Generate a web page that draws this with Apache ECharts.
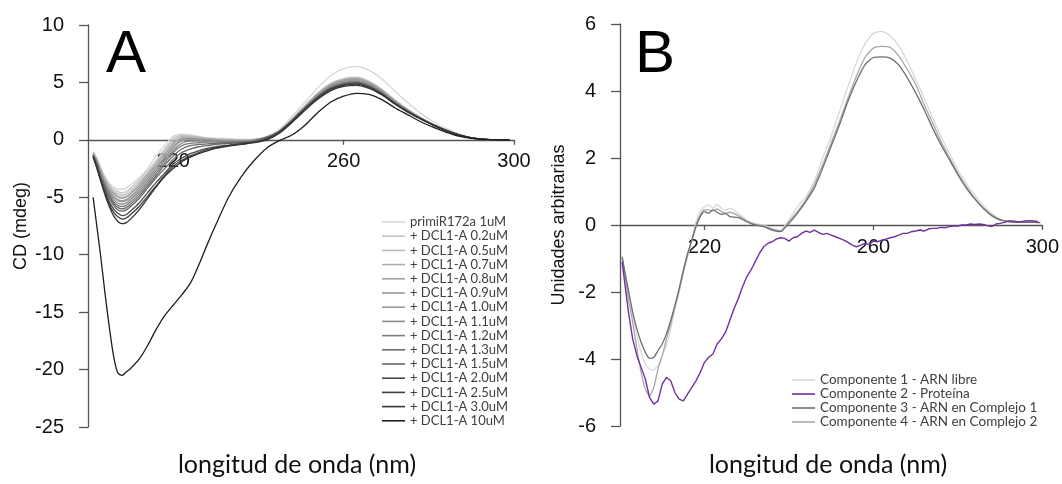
<!DOCTYPE html>
<html>
<head>
<meta charset="utf-8">
<script src="https://cdn.jsdelivr.net/npm/echarts@6/dist/echarts.min.js"></script>
<style>
html,body{margin:0;padding:0;background:#fff;}
#chart{width:1062px;height:484px;}
</style>
</head>
<body>
<div id="chart"></div>
<script>
// ---------- Panel A data ----------
const wavelengthA = [201.2,202,203,204,205,206,207,208,209,210,212,214,216,218,220,222,224,226,228,230,233,236,239,242,245,248,251,254,257,260,263,266,269,272,275,278,281,284,287,290,293,296,299];
const legendA = ['primiR172a 1uM','+ DCL1-A 0.2uM','+ DCL1-A 0.5uM','+ DCL1-A 0.7uM','+ DCL1-A 0.8uM','+ DCL1-A 0.9uM','+ DCL1-A 1.0uM','+ DCL1-A 1.1uM','+ DCL1-A 1.2uM','+ DCL1-A 1.3uM','+ DCL1-A 1.5uM','+ DCL1-A 2.0uM','+ DCL1-A 2.5uM','+ DCL1-A 3.0uM','+ DCL1-A 10uM'];
const colorsA = ['#d6d6d6','#c4c4c4','#bababa','#b0b0b0','#a4a4a4','#979797','#9a9a9a','#8a8a8a','#7d7d7d','#6a6a6a','#666666','#4a4a4a','#3d3d3d','#333333','#1e1e1e'];

const cdPrimi = [-1.0,-1.5,-2.4,-3.2,-3.8,-4.1,-4.3,-4.3,-4.2,-3.9,-3.3,-2.5,-1.4,-0.5,0.3,0.5,0.45,0.3,0.2,0.15,0.1,0.05,0.05, 0.3,0.95,2.1,3.3,4.55,5.6,6.2,6.4,6.05,5.3,4.25,3.25,2.35,1.6,1.0,0.55,0.22,0.07,0.02,0];
const cd02 = [-1.1,-1.6,-2.5,-3.3,-3.9,-4.3,-4.5,-4.6,-4.5,-4.2,-3.5,-2.7,-1.8,-0.8,0.1,0.4,0.35,0.25,0.15,0.1,0.05,0.0,0.05, 0.25,0.8,1.85,3.0,4.1,4.92,5.33,5.45,5.1,4.4,3.48,2.67,1.97,1.36,0.86,0.45,0.18,0.05,0.01,0];
const cd05 = [-1.1,-1.7,-2.6,-3.4,-4.0,-4.5,-4.7,-4.8,-4.7,-4.4,-3.7,-2.9,-2.0,-1.0,-0.1,0.3,0.3,0.2,0.1,0.05,0.0,0.0,0.05, 0.25,0.8,1.83,2.98,4.07,4.88,5.28,5.4,5.05,4.36,3.45,2.65,1.95,1.35,0.85,0.45,0.18,0.05,0.01,0];
const cd07 = [-1.2,-1.7,-2.7,-3.5,-4.2,-4.6,-4.9,-5.0,-4.9,-4.6,-3.9,-3.0,-2.1,-1.2,-0.3,0.2,0.2,0.15,0.1,0.05,0.0,-0.05,0.0, 0.24,0.79,1.82,2.95,4.03,4.84,5.23,5.35,5.01,4.32,3.42,2.63,1.94,1.34,0.85,0.45,0.18,0.05,0.01,0];
const cd08 = [-1.2,-1.8,-2.8,-3.6,-4.3,-4.7,-5.0,-5.1,-5.0,-4.7,-4.0,-3.1,-2.2,-1.3,-0.4,0.1,0.15,0.1,0.05,0.0,-0.05,-0.05,0.0, 0.24,0.78,1.8,2.92,3.99,4.79,5.18,5.3,4.96,4.28,3.39,2.61,1.93,1.34,0.84,0.45,0.18,0.05,0.01,0];
const cd09 = [-1.2,-1.8,-2.8,-3.7,-4.4,-4.9,-5.2,-5.3,-5.2,-4.9,-4.2,-3.3,-2.4,-1.5,-0.6,0.0,0.1,0.05,0.0,-0.05,-0.1,-0.1,0.0, 0.23,0.77,1.77,2.87,3.92,4.7,5.08,5.2,4.87,4.2,3.33,2.57,1.91,1.33,0.84,0.44,0.18,0.05,0.01,0];
const cd10 = [-1.3,-1.9,-2.9,-3.8,-4.5,-5.0,-5.3,-5.4,-5.3,-5.0,-4.3,-3.4,-2.5,-1.6,-0.7,-0.1,0.05,0.0,0.0,-0.05,-0.1,-0.1,-0.05, 0.23,0.77,1.78,2.9,3.95,4.74,5.13,5.25,4.91,4.24,3.36,2.59,1.92,1.33,0.84,0.44,0.18,0.05,0.01,0];
const cd11 = [-1.3,-1.9,-3.0,-3.9,-4.6,-5.2,-5.5,-5.6,-5.5,-5.2,-4.5,-3.6,-2.7,-1.8,-0.9,-0.3,-0.1,-0.1,-0.1,-0.1,-0.15,-0.15,-0.1, 0.22,0.75,1.74,2.83,3.85,4.62,4.99,5.1,4.78,4.13,3.28,2.54,1.89,1.32,0.83,0.44,0.17,0.05,0.01,0];
const cd12 = [-1.3,-2.0,-3.1,-4.0,-4.8,-5.4,-5.7,-5.8,-5.7,-5.4,-4.7,-3.8,-2.9,-2.0,-1.1,-0.5,-0.3,-0.25,-0.2,-0.2,-0.2,-0.2,-0.1, 0.22,0.74,1.72,2.8,3.81,4.57,4.94,5.05,4.73,4.09,3.25,2.52,1.88,1.32,0.83,0.44,0.17,0.05,0.01,0];
const cd13 = [-1.4,-2.0,-3.2,-4.1,-4.9,-5.5,-5.9,-6.0,-5.9,-5.6,-4.9,-4.0,-3.1,-2.2,-1.4,-0.8,-0.5,-0.4,-0.35,-0.3,-0.25,-0.2,-0.15, 0.21,0.73,1.7,2.78,3.77,4.53,4.89,5.0,4.69,4.06,3.22,2.5,1.87,1.31,0.83,0.44,0.17,0.05,0.01,0];
const cd15 = [-1.4,-2.1,-3.3,-4.3,-5.1,-5.7,-6.1,-6.2,-6.1,-5.8,-5.1,-4.2,-3.3,-2.5,-1.7,-1.1,-0.8,-0.6,-0.5,-0.4,-0.3,-0.25,-0.15, 0.21,0.72,1.69,2.75,3.74,4.48,4.84,4.95,4.65,4.02,3.2,2.48,1.86,1.31,0.82,0.43,0.17,0.05,0.01,0];
const cd20 = [-1.4,-2.2,-3.4,-4.5,-5.4,-6.0,-6.4,-6.6,-6.5,-6.2,-5.5,-4.6,-3.7,-2.9,-2.1,-1.6,-1.2,-0.95,-0.75,-0.6,-0.45,-0.3,-0.2, 0.1,0.71,1.67,2.73,3.7,4.44,4.79,4.9,4.6,3.99,3.18,2.47,1.86,1.3,0.82,0.43,0.17,0.05,0.01,0];
const cd25 = [-1.5,-2.3,-3.5,-4.6,-5.6,-6.3,-6.7,-6.9,-6.8,-6.5,-5.8,-4.9,-4.0,-3.1,-2.3,-1.8,-1.4,-1.1,-0.85,-0.7,-0.5,-0.35,-0.2, 0.05,0.7,1.66,2.71,3.67,4.39,4.75,4.85,4.57,3.97,3.16,2.46,1.85,1.3,0.82,0.43,0.17,0.05,0.01,0];
const cd30 = [-1.5,-2.4,-3.6,-4.8,-5.8,-6.6,-7.1,-7.3,-7.2,-6.9,-6.1,-5.1,-4.1,-3.2,-2.5,-1.9,-1.5,-1.2,-0.95,-0.75,-0.55,-0.4,-0.25, 0.0,0.6,1.55,2.6,3.55,4.28,4.65,4.75,4.48,3.9,3.12,2.43,1.84,1.3,0.82,0.43,0.17,0.05,0.01,0];
const cd100 = [-5.0,-7.3,-10.2,-13.4,-16.3,-18.8,-20.3,-20.5,-20.2,-19.9,-19.1,-17.9,-16.5,-15.3,-14.4,-13.5,-12.5,-10.9,-9.1,-7.4,-5.0,-3.2,-1.8, -0.7,-0.05,0.45,1.3,2.4,3.3,3.8,4.05,3.95,3.5,2.8,2.2,1.6,1.1,0.68,0.33,0.12,0.03,0.01,0];
const valuesA = [cdPrimi,cd02,cd05,cd07,cd08,cd09,cd10,cd11,cd12,cd13,cd15,cd20,cd25,cd30,cd100];

// ---------- Panel B data ----------
const wavelengthB = [200.5,201,202,203,204,205,206,207,208,209,210,211,212,213,214,215,216,217,218,219,220,221,222,223,224,225,226,228,230,232,234,236,238,240,242,244,246,248,250,252,254,256,258,260,262,264,266,268,270,272,274,276,278,280,282,284,286,288,290,292,294,296,298,299.5];
const comp1 = [-0.95,-1.3,-2.0,-2.7,-3.3,-3.8,-4.15,-4.3,-4.33,-4.2,-3.9,-3.6,-3.1,-2.5,-2.0,-1.45,-0.95,-0.5,0.1,0.4,0.55,0.6,0.5,0.62,0.5,0.45,0.5,0.35,0.15,0.05,0.0,-0.1,-0.15,0.15,0.55,0.85,1.3,2.0,2.65,3.4,4.15,4.85,5.4,5.72,5.78,5.65,5.35,4.9,4.35,3.8,3.2,2.65,2.15,1.65,1.25,0.9,0.6,0.35,0.18,0.1,0.07,0.1,0.1,0.08];
const comp3 = [-0.95,-1.3,-1.95,-2.6,-3.1,-3.5,-3.8,-3.98,-3.95,-3.75,-3.55,-3.25,-2.85,-2.4,-1.9,-1.35,-0.85,-0.45,-0.05,0.25,0.4,0.35,0.45,0.38,0.32,0.35,0.25,0.22,0.1,0.0,-0.05,-0.15,-0.2,0.05,0.35,0.7,1.1,1.7,2.35,3.0,3.7,4.3,4.78,5.0,5.02,4.98,4.78,4.4,3.95,3.45,2.9,2.4,1.95,1.5,1.1,0.78,0.5,0.28,0.15,0.1,0.08,0.08,0.08,0.07];
const comp4 = [-0.95,-1.35,-2.2,-2.9,-3.7,-4.4,-4.9,-5.1,-4.85,-4.3,-3.9,-3.4,-2.95,-2.45,-1.95,-1.4,-0.9,-0.45,0.0,0.3,0.45,0.45,0.42,0.48,0.4,0.35,0.38,0.28,0.12,0.02,-0.02,-0.12,-0.18,0.1,0.4,0.75,1.2,1.8,2.45,3.1,3.8,4.45,5.0,5.28,5.33,5.3,5.05,4.65,4.2,3.6,3.05,2.5,2.02,1.55,1.15,0.8,0.52,0.3,0.16,0.1,0.08,0.09,0.1,0.08];
const wavelengthProt = [200.5,201,202,203,204,205,206,207,208,209,210,211,212,213,214,215,216,217,218,219,220,221,222,223,224,225,226,227,228,229,230,231,232,233,234,235,236,237,238,239,240,241,242,243,244,245,246,247,248,249,250,251,252,253,254,255,256,257,258,259,260,261,262,263,264,265,266,267,268,269,270,271,272,273,274,275,276,277,278,279,280,281,282,283,284,285,286,287,288,289,290,291,292,293,294,295,296,297,298,299];
const comp2 = [-1.1,-1.6,-2.6,-3.4,-3.9,-4.25,-4.6,-5.15,-5.35,-5.25,-4.75,-4.55,-4.65,-5.0,-5.2,-5.25,-5.05,-4.85,-4.65,-4.4,-4.1,-3.95,-3.85,-3.55,-3.4,-3.2,-2.85,-2.5,-2.2,-1.85,-1.55,-1.35,-1.1,-0.85,-0.65,-0.55,-0.5,-0.42,-0.38,-0.4,-0.48,-0.38,-0.35,-0.25,-0.18,-0.22,-0.15,-0.22,-0.28,-0.25,-0.3,-0.35,-0.4,-0.45,-0.52,-0.6,-0.65,-0.6,-0.55,-0.58,-0.48,-0.5,-0.45,-0.42,-0.38,-0.35,-0.3,-0.25,-0.25,-0.2,-0.18,-0.15,-0.18,-0.12,-0.1,-0.1,-0.07,-0.08,-0.05,-0.03,-0.03,0.0,0.0,0.03,0.02,0.03,0.02,-0.02,-0.05,0.03,0.05,0.08,0.12,0.12,0.1,0.1,0.12,0.13,0.12,0.1];
const legendB = ['Componente 1 - ARN libre','Componente 2 - Proteína','Componente 3 - ARN en Complejo 1','Componente 4 - ARN en Complejo 2'];
const colorsB = ['#d9d9d9','#7030a0','#6f6f6f','#a8a8a8'];

const tickLabelsX = [220,260,300];

// ---------- chart ----------
const chart = echarts.init(document.getElementById('chart'), null, {renderer:'canvas'});
const axisCol = '#555555';
const tickFont = 'Liberation Sans';

function zip(xs, ys){ return xs.map((x,i)=>[x, ys[i]]); }

const seriesA = valuesA.map((vals,i)=>({
  name: legendA[i], type:'line', xAxisIndex:0, yAxisIndex:0,
  data: zip(wavelengthA, vals), symbol:'none', smooth:0.25,
  lineStyle:{color:colorsA[i], width:1.3}, itemStyle:{color:colorsA[i]},
  z: 2 + i, silent:true, animation:false
}));
const valsB = [comp1, comp2, comp3, comp4];
const xsB = [wavelengthB, wavelengthProt, wavelengthB, wavelengthB];
const seriesB = valsB.map((vals,i)=>({
  name: legendB[i], type:'line', xAxisIndex:1, yAxisIndex:1,
  data: zip(xsB[i], vals), symbol:'none', smooth: i===1 ? false : 0.2,
  lineStyle:{color:colorsB[i], width: i===1 ? 1.4 : 1.3}, itemStyle:{color:colorsB[i]},
  z: [2,5,4,3][i], silent:true, animation:false
}));

// x axis drawn at the zero level of the value axis (offset from grid bottom)
function xAxisCfg(gi, off){
  return {
    type:'value', gridIndex:gi, min:200, max:300, position:'bottom', offset:off,
    axisLine:{show:true, onZero:false, lineStyle:{color:axisCol, width:1.3}},
    axisTick:{show:true, customValues:tickLabelsX, length:5, lineStyle:{color:axisCol, width:1.3}},
    axisLabel:{customValues:tickLabelsX, fontFamily:tickFont, fontSize:20, color:'#111', margin:12},
    splitLine:{show:false}
  };
}
function yAxisCfg(gi, min, max, itv, name, gap){
  return {
    type:'value', gridIndex:gi, min:min, max:max, interval:itv,
    axisLine:{show:true, onZero:false, lineStyle:{color:axisCol, width:1.3}},
    axisTick:{show:true, length:9, lineStyle:{color:axisCol, width:1.3}},
    axisLabel:{fontFamily:tickFont, fontSize:20, color:'#111', margin:24},
    splitLine:{show:false},
    name:name, nameLocation:'middle', nameGap:gap,
    nameTextStyle:{fontFamily:tickFont, fontSize:18, color:'#111'}
  };
}

const option = {
  backgroundColor:'#ffffff',
  animation:false,
  grid:[
    {left:88, top:25, width:426, height:402, containLabel:false},
    {left:620, top:24, width:425, height:402, containLabel:false}
  ],
  xAxis:[xAxisCfg(0, -287.2), xAxisCfg(1, -201)],
  yAxis:[yAxisCfg(0,-25,10,5,'CD (mdeg)',58), yAxisCfg(1,-6,6,2,'Unidades arbitrarias',52)],
  legend:[
    {data:legendA, orient:'vertical', left:382, top:215, itemWidth:23, itemHeight:1.6, itemGap:0.2, icon:'rect',
     selectedMode:false, padding:0,
     textStyle:{fontFamily:'Lato', fontSize:13, color:'#404040', lineHeight:14}},
    {data:legendB, orient:'vertical', left:792, top:373, itemWidth:23, itemHeight:1.6, itemGap:0, icon:'rect',
     selectedMode:false, padding:0,
     textStyle:{fontFamily:'Lato', fontSize:13.5, color:'#404040', lineHeight:14}}
  ],
  graphic:[
    {type:'text', x:126, y:55, style:{text:'A', font:'60px "Liberation Sans"', fill:'#000', align:'center', verticalAlign:'middle'}},
    {type:'text', x:655, y:55, style:{text:'B', font:'60px "Liberation Sans"', fill:'#000', align:'center', verticalAlign:'middle'}},
    {type:'text', x:297, y:465, style:{text:'longitud de onda (nm)', font:'25px Lato', fill:'#111', align:'center', verticalAlign:'middle'}},
    {type:'text', x:828, y:465, style:{text:'longitud de onda (nm)', font:'25px Lato', fill:'#111', align:'center', verticalAlign:'middle'}}
  ],
  series: seriesA.concat(seriesB)
};
chart.setOption(option);
</script>
</body>
</html>
